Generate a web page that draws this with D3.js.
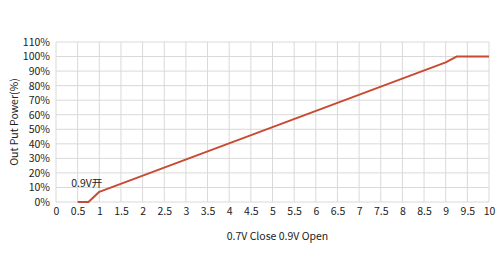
<!doctype html>
<html lang="en">
    <head>
        <meta charset="utf-8">
        <title>Out Put Power</title>
        <style>
            body { margin: 0; background: #fff; }
            text { font-family: "Noto Sans CJK SC", "Open Sans", sans-serif; fill: #222; }
        </style>
    </head>
    <body>
        <script src="https://d3js.org/d3.v7.min.js"></script>
        <script>
            // curve
            var volts = [0.5, 0.75, 1, 9, 9.25, 10];
            var power = [0, 0, 7, 96, 100, 100];
            var xTicks = d3.range(0, 10.01, 0.5);
            var yTicks = d3.range(0, 111, 10);

            var margin = {top: 42, right: 11, bottom: 68, left: 56},
                width = 500 - margin.left - margin.right,
                height = 270 - margin.top - margin.bottom;

            var x = d3.scaleLinear().domain([0, 10]).range([0, width]);
            var y = d3.scaleLinear().domain([0, 110]).range([height, 0]);

            var svg = d3.select("body").append("svg")
                        .attr("width", 500)
                        .attr("height", 270)
                        .append("g")
                        .attr("transform", "translate(" + margin.left + "," + margin.top + ")");

            // grid
            svg.selectAll(".vgrid")
                .data(xTicks)
                .enter().append("line")
                .attr("x1", function(d) { return x(d); })
                .attr("x2", function(d) { return x(d); })
                .attr("y1", 0)
                .attr("y2", height)
                .attr("stroke", "#d9d9d9");
            svg.selectAll(".hgrid")
                .data(yTicks)
                .enter().append("line")
                .attr("x1", 0)
                .attr("x2", width)
                .attr("y1", function(d) { return y(d); })
                .attr("y2", function(d) { return y(d); })
                .attr("stroke", "#d9d9d9");

            var xAxis = svg.append("g")
                .attr("transform", "translate(0," + height + ")")
                .call(d3.axisBottom(x).tickValues(xTicks).tickSize(0).tickPadding(6)
                    .tickFormat(function(d) { return d3.format("~g")(d); }));
            var yAxis = svg.append("g")
                .call(d3.axisLeft(y).tickValues(yTicks).tickSize(0).tickPadding(6)
                    .tickFormat(function(d) { return d + "%"; }));
            [xAxis, yAxis].forEach(function(a) {
                a.select(".domain").remove();
                a.selectAll("text").attr("font-size", 10.5).attr("fill", "#222")
                    .attr("font-family", "'Noto Sans CJK SC', 'Open Sans', sans-serif");
            });

            var line = d3.line()
                .x(function(d, i) { return x(volts[i]); })
                .y(function(d) { return y(d); });

            svg.append("path")
                .datum(power)
                .attr("d", line)
                .attr("fill", "none")
                .attr("stroke", "#c84a32")
                .attr("stroke-width", 2)
                .attr("stroke-linejoin", "round");

            svg.append("text")
                .attr("x", x(0.35))
                .attr("y", y(10.5))
                .attr("font-size", 10.5)
                .text("0.9V开");

            svg.append("text")
                .attr("x", width / 2 + 5)
                .attr("y", height + 38)
                .attr("text-anchor", "middle")
                .attr("font-size", 10.5)
                .text("0.7V Close 0.9V Open");

            svg.append("text")
                .attr("transform", "translate(" + (-38) + "," + (height / 2) + ") rotate(-90)")
                .attr("text-anchor", "middle")
                .attr("font-size", 10.5)
                .text("Out Put Power(%)");
        </script>
    </body>
</html>
